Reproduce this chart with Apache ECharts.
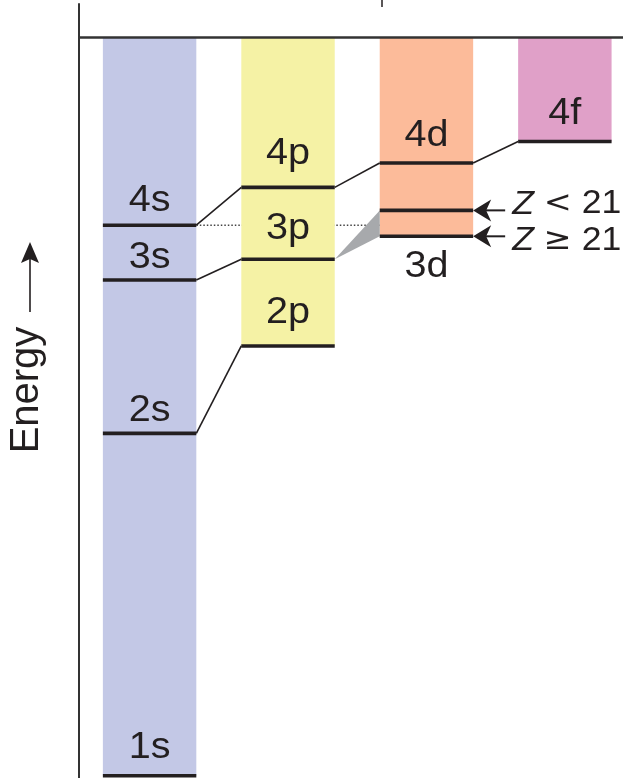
<!DOCTYPE html>
<html>
<head>
<meta charset="utf-8">
<script src="https://cdn.jsdelivr.net/npm/echarts@6/dist/echarts.min.js"></script>
<style>
  html, body { margin: 0; padding: 0; background: #fff; }
  #chart { width: 623px; height: 778px; }
</style>
</head>
<body>
<div id="chart"></div>
<script>
// subshell columns, left to right
const columns = ['s', 'p', 'd', 'f']
// orbital levels, energy in arbitrary units (100 = top line)
const levelNames = ['1s', '2s', '3s', '4s', '2p', '3p', '4p', '3d', '', '4d', '4f']
const levelColumn = [0, 0, 0, 0, 1, 1, 1, 2, 2, 2, 3]
const levelEnergy = [0.3, 46.5, 67.2, 74.6, 58.3, 70.0, 79.7, 73.1, 76.6, 83.0, 85.9]
// lines joining levels of the same shell (level index pairs)
const shellLinks = [[1, 4], [2, 5], [3, 6], [6, 9], [9, 10]]
// 3d markers: symbol, operator, number
const zOps = ['<', '\u2265']
const zNums = ['21', '21']
const zLevels = [8, 7]
const topEnergy = 100

const colColors = ['#c3c8e6', '#f5f2a5', '#fcbb9a', '#e0a0c8']
const ink = '#231f20'
const halfW = 0.3375
const font = '"Liberation Sans", Arial, sans-serif'
// label offset from its line, px
const labelDy = { '1s': -28, '2s': -22, '3s': -22, '4s': -24, '2p': -33, '3p': -30, '4p': -33, '3d': 31, '4d': -27, '4f': -27 }
const zDy = [-6, 5]

const colFloor = columns.map((c, i) =>
  Math.min(...levelEnergy.filter((e, k) => levelColumn[k] === i)))

const chart = echarts.init(document.getElementById('chart'))

const textEl = (text, x, y, size, align, dy) => ({
  type: 'text',
  x: x,
  y: y + (dy || 0),
  scaleX: 1.1,
  style: {
    text: text,
    fontSize: size,
    fontFamily: font,
    fill: ink,
    align: align,
    verticalAlign: 'middle'
  }
})

chart.setOption({
  animation: false,
  grid: { left: 79, right: 0, top: 4, bottom: 0 },
  xAxis: { type: 'value', min: -0.51, max: 3.42, show: false },
  yAxis: {
    type: 'value',
    min: 0,
    max: 104.45,
    axisLine: { show: true, onZero: false, lineStyle: { color: '#333', width: 2 } },
    axisTick: { show: false },
    axisLabel: { show: false },
    splitLine: { show: false }
  },
  graphic: [
    {
      type: 'text',
      x: 27,
      y: 390,
      rotation: Math.PI / 2,
      style: {
        text: 'Energy',
        fontSize: 40,
        fontFamily: font,
        fill: ink,
        align: 'center',
        verticalAlign: 'middle'
      }
    },
    { type: 'line', shape: { x1: 30, y1: 312, x2: 30, y2: 256 }, style: { stroke: ink, lineWidth: 1.6 } },
    {
      type: 'polygon',
      shape: { points: [[30, 242], [21, 263], [30, 259], [39, 263]] },
      style: { fill: ink }
    },
    { type: 'line', shape: { x1: 382, y1: 0, x2: 382, y2: 7 }, style: { stroke: ink, lineWidth: 1.5 } }
  ],
  series: [
    {
      // dotted 4s guide
      type: 'custom',
      z: 1,
      silent: true,
      data: [[3, 2]],
      renderItem: (params, api) => {
        const k = api.value(0)
        const a = api.coord([levelColumn[k] + halfW, levelEnergy[k]])
        const b = api.coord([api.value(1) - halfW, levelEnergy[k]])
        return {
          type: 'line',
          shape: { x1: a[0], y1: a[1], x2: b[0], y2: b[1] },
          style: { stroke: '#444', lineWidth: 1.5, lineDash: [1.5, 2] }
        }
      }
    },
    {
      // subshell columns
      type: 'custom',
      z: 2,
      silent: true,
      data: columns.map((c, i) => [i, colFloor[i]]),
      renderItem: (params, api) => {
        const i = api.value(0)
        const p1 = api.coord([i - halfW, topEnergy])
        const p2 = api.coord([i + halfW, api.value(1)])
        return {
          type: 'rect',
          shape: { x: p1[0], y: p1[1], width: p2[0] - p1[0], height: p2[1] - p1[1] },
          style: { fill: colColors[i] }
        }
      }
    },
    {
      // 3p -> 3d wedge
      type: 'custom',
      z: 3,
      silent: true,
      data: [[5, 8, 7]],
      renderItem: (params, api) => {
        const from = api.value(0), hi = api.value(1), lo = api.value(2)
        return {
          type: 'polygon',
          shape: {
            points: [
              api.coord([levelColumn[from] + halfW, levelEnergy[from]]),
              api.coord([levelColumn[hi] - halfW, levelEnergy[hi]]),
              api.coord([levelColumn[lo] - halfW, levelEnergy[lo]])
            ]
          },
          style: { fill: '#a7a9ac' }
        }
      }
    },
    {
      // shell links
      type: 'custom',
      z: 3,
      silent: true,
      data: shellLinks,
      renderItem: (params, api) => {
        const a = api.value(0), b = api.value(1)
        const p1 = api.coord([levelColumn[a] + halfW, levelEnergy[a]])
        const p2 = api.coord([levelColumn[b] - halfW, levelEnergy[b]])
        return {
          type: 'line',
          shape: { x1: p1[0], y1: p1[1], x2: p2[0], y2: p2[1] },
          style: { stroke: ink, lineWidth: 1.6 }
        }
      }
    },
    {
      // levels + labels
      type: 'custom',
      z: 4,
      silent: true,
      data: levelEnergy.map((e, k) => [levelColumn[k], e, k]),
      renderItem: (params, api) => {
        const i = api.value(0), e = api.value(1), k = api.value(2)
        const p1 = api.coord([i - halfW, e])
        const p2 = api.coord([i + halfW, e])
        const children = [{
          type: 'line',
          shape: { x1: p1[0], y1: p1[1], x2: p2[0], y2: p2[1] },
          style: { stroke: ink, lineWidth: 3.6 }
        }]
        const name = levelNames[k]
        if (name) {
          children.push(textEl(name, (p1[0] + p2[0]) / 2, p1[1], 36, 'center', labelDy[name]))
        }
        return { type: 'group', children: children }
      },
      markLine: {
        silent: true,
        symbol: 'none',
        label: { show: false },
        lineStyle: { color: '#333', width: 2.5, type: 'solid' },
        data: [{ yAxis: topEnergy }]
      }
    },
    {
      // Z arrows
      type: 'custom',
      z: 5,
      silent: true,
      data: zLevels.map((k, j) => [k, j]),
      renderItem: (params, api) => {
        const k = api.value(0), j = api.value(1)
        const p = api.coord([levelColumn[k] + halfW, levelEnergy[k]])
        const x = p[0], y = p[1]
        return {
          type: 'group',
          children: [
            { type: 'line', shape: { x1: x + 10, y1: y, x2: x + 32, y2: y }, style: { stroke: ink, lineWidth: 2 } },
            {
              type: 'polygon',
              shape: { points: [[x, y], [x + 18, y - 11], [x + 13, y], [x + 18, y + 11]] },
              style: { fill: ink }
            },
            {
              type: 'text',
              x: x + 39,
              y: y + zDy[j],
              scaleX: 1.08,
              style: {
                text: '{i|Z} {o|' + zOps[j] + '} ' + zNums[j],
                fontSize: 33,
                fontFamily: font,
                fill: ink,
                align: 'left',
                verticalAlign: 'middle',
                rich: {
                  i: { fontSize: 33, fontFamily: font, fontStyle: 'italic', fill: ink },
                  o: { fontSize: 31, fontFamily: '"DejaVu Sans", sans-serif', fill: ink }
                }
              }
            }
          ]
        }
      }
    }
  ]
})
</script>
</body>
</html>
